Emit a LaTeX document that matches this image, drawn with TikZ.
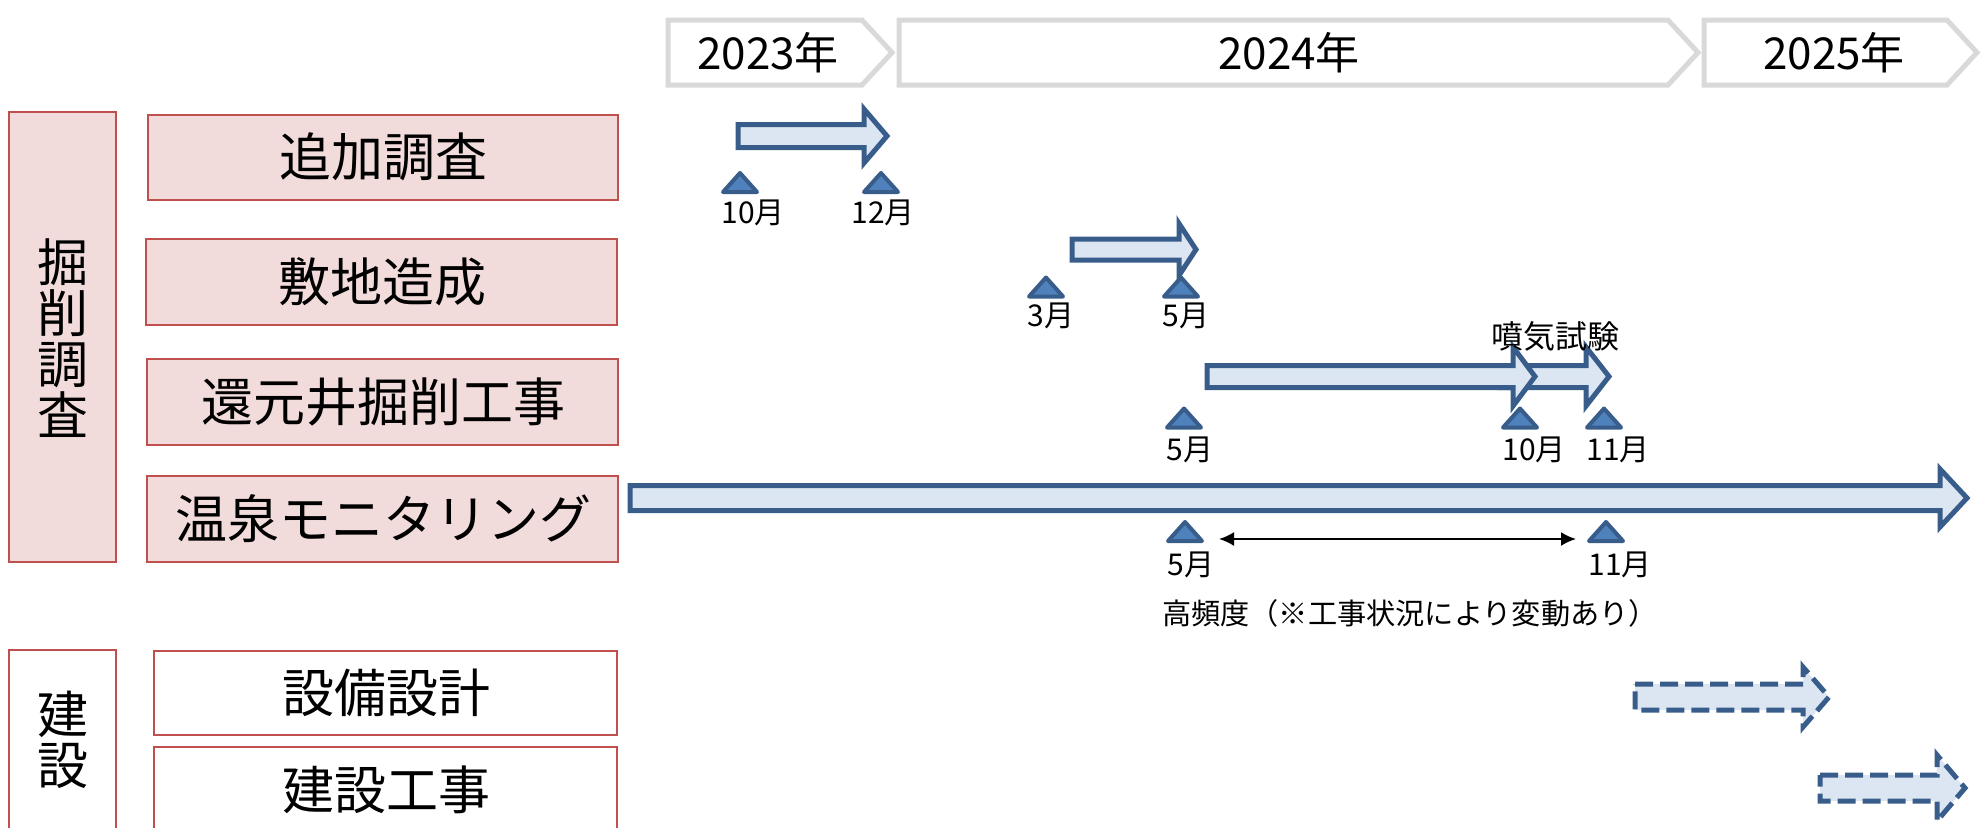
\documentclass[tikz,border=0pt]{standalone}
\usepackage{fontspec}
\setmainfont{Noto Sans CJK JP}
\usetikzlibrary{arrows.meta}
\definecolor{barline}{HTML}{385D8A}
\definecolor{barfill}{HTML}{DCE6F2}
\definecolor{mkfill}{HTML}{4F81BD}
\definecolor{boxfill}{HTML}{F2DCDB}
\definecolor{boxline}{HTML}{C0504D}
\definecolor{yearline}{HTML}{D9D9D9}
\newcommand{\yearshape}[3]{\draw[yearstyle] (#1,20) -- (#2,20) -- (#3,52.5) -- (#2,85) -- (#1,85) -- cycle;}
\newcommand{\blockarrow}[7]{\draw[#1] (#2,{#5-#6}) -- (#3,{#5-#6}) -- (#3,{#5-#7}) -- (#4,#5) -- (#3,{#5+#7}) -- (#3,{#5+#6}) -- (#2,{#5+#6}) -- cycle;}
\newcommand{\marker}[3]{\draw[mkstyle] ({#2-17},{#3+9.5}) -- ({#2+17},{#3+9.5}) -- (#2,{#3-9.5}) -- cycle; \coordinate (#1) at (#2,#3);}
\begin{document}
\begin{tikzpicture}[x=0.5pt,y=-0.5pt,
  yearstyle/.style={draw=yearline,line width=2.5pt,fill=white,line join=miter},
  yeartxt/.style={inner sep=0pt,font=\fontsize{22}{24}\selectfont},
  taskbox/.style={draw=boxline,fill=boxfill,line width=1pt},
  buildbox/.style={draw=boxline,fill=white,line width=1pt},
  tasktxt/.style={inner sep=0pt,font=\fontsize{26}{26}\selectfont},
  vtxt/.style={inner sep=0pt,align=center,font=\fontsize{25.5}{25.5}\selectfont},
  solidbar/.style={draw=barline,fill=barfill,line width=2.5pt,line join=miter},
  dashbar/.style={draw=barline,fill=barfill,line width=2.5pt,dash pattern=on 9pt off 3.5pt,line join=miter},
  mkstyle/.style={draw=barline,fill=mkfill,line width=2pt,line join=round},
  smalltxt/.style={inner sep=0pt,font=\fontsize{15}{17}\selectfont},
  mlabel/.style={smalltxt,anchor=west},
  dbl/.style={draw=black,line width=1pt,{Latex[length=7.5pt,width=7pt]}-{Latex[length=7.5pt,width=7pt]}}
]
\useasboundingbox (0,0) rectangle (1981,827);

% year header
\yearshape{668}{862}{892}
\yearshape{899}{1668}{1698}
\yearshape{1704}{1947}{1977}
\node[yeartxt] (y23) at (768,53) {2023年};
\node[yeartxt] (y24) at (1289,53) {2024年};
\node[yeartxt] (y25) at (1834,53) {2025年};

% group boxes
\draw[taskbox] (9,112) rectangle (116,562);
\node[vtxt] (g1) at (62.5,338) {掘\\削\\調\\査};
\draw[buildbox] (9,650) rectangle (116,840);
\node[vtxt] (g2) at (63,740) {建\\設};

% task boxes
\draw[taskbox] (148,115) rectangle (618,200);
\node[tasktxt] (t1) at (383,157) {追加調査};
\draw[taskbox] (146,239) rectangle (617,325);
\node[tasktxt] (t2) at (382,282) {敷地造成};
\draw[taskbox] (147,359) rectangle (618,445);
\node[tasktxt] (t3) at (383,402) {還元井掘削工事};
\draw[taskbox] (147,476) rectangle (618,562);
\node[tasktxt] (t4) at (383,519) {温泉モニタリング};
\draw[buildbox] (154,651) rectangle (617,735);
\node[tasktxt] (t5) at (386,693) {設備設計};
\draw[buildbox] (154,747) rectangle (617,840);
\node[tasktxt] (t6) at (386,790) {建設工事};

% bars
\blockarrow{solidbar}{738}{864}{887}{136}{11.5}{27}
\blockarrow{solidbar}{1072}{1179}{1196}{249.5}{10.5}{26}
\blockarrow{solidbar}{1500}{1586}{1609}{376.5}{11}{29.5}
\blockarrow{solidbar}{1207}{1513}{1535}{376.5}{11}{29.5}
\blockarrow{solidbar}{630}{1940}{1967}{498}{12.5}{29}
\blockarrow{dashbar}{1635}{1803}{1829}{697}{13}{30}
\blockarrow{dashbar}{1820}{1937}{1965}{788}{13}{33}

% markers
\marker{m11}{740}{182.5}
\marker{m12}{881}{182.5}
\marker{m21}{1046}{287}
\marker{m22}{1181}{287}
\marker{m31}{1184}{418}
\marker{m32}{1520}{418}
\marker{m33}{1604}{418}
\marker{m41}{1185}{531.5}
\marker{m42}{1606}{531.5}

% month labels
\node[mlabel] (l11) at (721,213) {10月};
\node[mlabel] (l12) at (851,213) {12月};
\node[mlabel] (l21) at (1027,316) {3月};
\node[mlabel] (l22) at (1162,316) {5月};
\node[mlabel] (l31) at (1166,450) {5月};
\node[mlabel] (l32) at (1502,450) {10月};
\node[mlabel] (l33) at (1586,450) {11月};
\node[mlabel] (l41) at (1167,565) {5月};
\node[mlabel] (l42) at (1588,565) {11月};

\node[smalltxt,font=\fontsize{16}{18}\selectfont] (kiki) at (1555,336) {噴気試験};
\node[smalltxt,font=\fontsize{14.6}{17}\selectfont] (hf) at (1410,613) {高頻度（※工事状況により変動あり）};

\coordinate (hfa) at (1219,539);
\coordinate (hfb) at (1576,539);
\draw[dbl] (hfa) -- (hfb);
\end{tikzpicture}
\end{document}
